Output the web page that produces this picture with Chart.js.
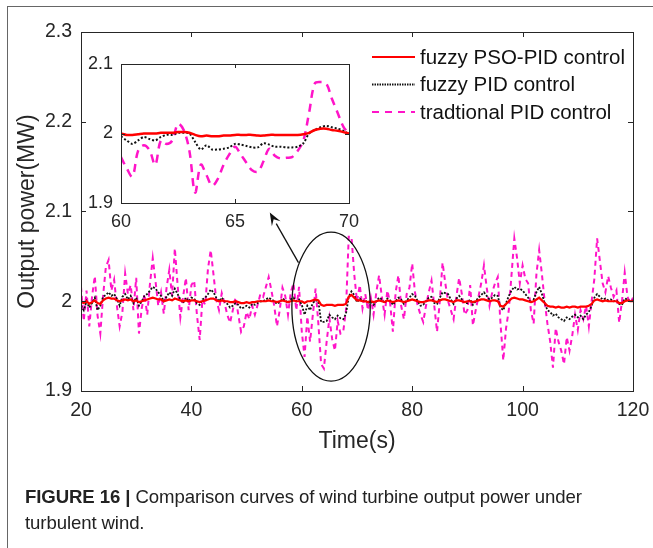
<!DOCTYPE html>
<html>
<head>
<meta charset="utf-8">
<script src="https://cdn.jsdelivr.net/npm/chart.js@4.4.1/dist/chart.umd.min.js"></script>
<style>
  html, body { margin: 0; padding: 0; background: #fff; overflow: hidden; }
  body { width: 653px; height: 548px; position: relative; }
  #frame { position: absolute; left: 7px; top: 6px; width: 700px; height: 600px; border: 1.5px solid #666; box-sizing: border-box; }
  #main { position: absolute; left: 0; top: 0; }
  #inset { position: absolute; left: 70px; top: 50px; }
  #caption {
    position: absolute; left: 25px; top: 484px; width: 620px;
    font-family: "Liberation Sans", Arial, sans-serif;
    font-size: 18.6px; line-height: 26px; color: #222; letter-spacing: -0.1px;
  }
  #caption b { font-weight: bold; }
</style>
</head>
<body>
<div id="frame"></div>
<canvas id="main" width="653" height="548"></canvas>
<canvas id="inset" width="300" height="190"></canvas>
<div id="caption"><b>FIGURE 16 |</b> Comparison curves of wind turbine output power under<br>turbulent wind.</div>
<script>
// main plot: samples every 0.5 s from 20 s to 120 s
const TIME_START = 20;
const TIME_STEP = 0.5;

const psoPid = [
  1.999, 1.998, 2.000, 1.997, 1.999, 2.001, 1.998, 1.997, 2.001, 2.003,
  2.004, 2.003, 2.003, 2.001, 2.000, 2.001, 2.002, 2.001, 2.002, 2.000,
  2.001, 1.999, 2.000, 2.001, 2.002, 2.003, 2.004, 2.003, 2.002, 2.002,
  2.000, 2.001, 2.002, 2.001, 2.003, 2.002, 2.001, 2.000, 2.001, 2.000,
  2.001, 2.001, 2.000, 1.999, 2.000, 2.001, 2.002, 2.003, 2.003, 2.001,
  2.000, 2.001, 2.000, 2.000, 1.999, 1.999, 2.000, 1.999, 1.998, 1.998,
  1.999, 1.998, 1.999, 1.999, 2.000, 2.000, 2.000, 2.000, 2.001, 2.000,
  2.000, 1.999, 2.000, 2.001, 2.000, 1.999, 2.000, 2.001, 2.000, 2.000,
  2.000, 1.998, 2.000, 2.000, 2.001, 2.002, 2.001, 1.996, 1.995, 1.996,
  1.996, 1.996, 1.995, 1.996, 1.996, 1.996, 1.997, 2.005, 2.007, 2.004,
  2.001, 2.001, 2.000, 2.000, 1.999, 2.000, 1.999, 2.000, 2.001, 2.000,
  1.999, 2.001, 2.000, 1.999, 2.000, 2.001, 2.000, 1.999, 2.000, 2.001,
  2.002, 2.001, 2.000, 1.999, 1.999, 2.000, 2.001, 2.001, 2.000, 1.999,
  2.001, 2.002, 2.002, 2.001, 2.000, 1.999, 2.001, 2.001, 2.000, 1.999,
  2.000, 2.000, 1.999, 2.000, 2.001, 2.002, 2.002, 2.001, 2.000, 2.001,
  2.001, 2.000, 1.995, 1.994, 1.997, 2.000, 2.003, 2.004, 2.003, 2.002,
  2.002, 2.001, 2.000, 1.999, 2.000, 2.002, 2.004, 2.001, 1.998, 1.995,
  1.994, 1.994, 1.993, 1.994, 1.993, 1.993, 1.994, 1.993, 1.994, 1.994,
  1.993, 1.994, 1.994, 1.994, 1.995, 1.997, 2.001, 2.002, 2.001, 2.000,
  2.001, 2.000, 2.000, 2.000, 2.000, 1.998, 1.998, 2.000, 2.001, 2.000,
  2.000
];

const fuzzyPid = [
  1.995, 1.990, 2.000, 1.993, 1.998, 2.004, 1.990, 1.995, 2.005, 2.007,
  2.010, 2.006, 2.008, 2.003, 1.995, 2.005, 2.008, 2.002, 2.006, 1.998,
  2.004, 1.995, 2.000, 2.006, 2.008, 2.012, 2.016, 2.014, 2.010, 2.006,
  2.000, 2.005, 2.010, 2.006, 2.014, 2.008, 2.002, 1.998, 2.004, 2.000,
  2.004, 2.003, 1.998, 1.996, 2.002, 2.004, 2.008, 2.013, 2.010, 2.004,
  2.000, 2.004, 2.000, 1.997, 1.993, 1.995, 1.998, 1.996, 1.992, 1.993,
  1.995, 1.993, 1.997, 1.996, 1.998, 2.000, 2.000, 2.002, 2.004, 2.002,
  2.000, 1.997, 1.999, 2.003, 2.001, 1.998, 2.002, 2.004, 2.000, 2.002,
  1.996, 1.985, 1.995, 1.990, 1.998, 2.001, 2.000, 1.977, 1.977, 1.978,
  1.985, 1.982, 1.980, 1.984, 1.981, 1.980, 1.986, 2.005, 2.011, 2.007,
  1.999, 2.003, 2.000, 2.001, 1.998, 2.000, 1.996, 2.000, 2.004, 2.002,
  1.998, 2.003, 2.001, 1.996, 2.000, 2.004, 2.002, 1.997, 2.001, 2.004,
  2.008, 2.006, 2.000, 1.995, 1.996, 2.000, 2.004, 2.005, 1.998, 1.997,
  2.004, 2.010, 2.009, 2.008, 2.002, 1.997, 2.003, 2.006, 2.002, 1.998,
  1.998, 2.002, 1.996, 2.000, 2.004, 2.007, 2.010, 2.006, 2.002, 2.004,
  2.007, 2.006, 1.993, 1.990, 1.998, 2.006, 2.012, 2.016, 2.013, 2.014,
  2.012, 2.008, 2.004, 1.998, 2.002, 2.010, 2.016, 2.008, 1.998, 1.990,
  1.988, 1.984, 1.986, 1.982, 1.980, 1.978, 1.982, 1.980, 1.983, 1.985,
  1.982, 1.984, 1.980, 1.985, 1.988, 1.995, 2.004, 2.008, 2.005, 2.002,
  2.003, 2.001, 2.002, 2.000, 2.001, 1.997, 1.996, 2.003, 2.002, 2.000,
  2.001
];

const tradPid = [
  2.016, 1.978, 2.012, 1.972, 2.005, 2.028, 1.984, 1.964, 2.006, 2.038,
  2.046, 2.012, 2.024, 1.995, 1.972, 1.988, 2.031, 2.008, 2.018, 1.990,
  2.026, 1.964, 1.992, 2.008, 1.985, 2.020, 2.048, 2.022, 1.995, 2.010,
  1.986, 2.015, 2.035, 2.006, 2.059, 2.018, 1.982, 2.005, 2.026, 1.990,
  2.018, 2.023, 1.985, 1.957, 2.002, 1.996, 2.036, 2.057, 2.030, 2.002,
  1.990, 2.009, 1.998, 1.985, 1.976, 1.990, 2.004, 1.985, 1.966, 1.972,
  1.988, 1.980, 1.995, 1.985, 1.996, 2.008, 2.005, 2.016, 2.027, 2.012,
  1.995, 1.972, 1.990, 2.015, 2.006, 1.985, 2.010, 2.020, 1.990, 2.016,
  1.966, 1.938, 1.983, 1.955, 1.985, 2.014, 1.975, 1.930, 1.925, 1.955,
  1.981, 1.958, 1.945, 1.978, 1.964, 1.966, 1.990, 2.072, 2.072, 2.030,
  2.000, 2.018, 1.992, 2.008, 1.990, 2.004, 1.985, 2.010, 2.029, 2.005,
  1.985, 2.012, 1.998, 1.966, 2.010, 2.029, 1.995, 1.980, 2.008, 2.015,
  2.042, 2.010, 1.995, 1.985, 1.977, 1.995, 2.010, 2.023, 1.995, 1.966,
  2.000, 2.043, 2.020, 2.000, 1.990, 1.980, 2.005, 2.026, 2.008, 1.985,
  1.990, 2.018, 1.973, 1.990, 2.005, 2.020, 2.040, 2.015, 1.995, 2.010,
  2.020, 2.027, 1.975, 1.934, 1.970, 1.990, 2.030, 2.070, 2.048, 2.020,
  2.040, 2.025, 2.020, 1.990, 1.975, 2.030, 2.057, 2.030, 2.000, 1.975,
  1.955, 1.926, 1.970, 1.955, 1.945, 1.930, 1.960, 1.945, 1.962, 1.985,
  1.968, 1.990, 1.980, 1.995, 1.972, 2.000, 2.025, 2.070, 2.045, 2.020,
  2.010, 2.028, 2.015, 2.005, 2.012, 1.976, 2.000, 2.032, 2.005, 1.998,
  2.004
];

// zoomed view: samples every 0.25 s from 60 s to 70 s
const INSET_START = 60;
const INSET_STEP = 0.25;

const insetPso = [
  2.000, 1.998, 1.998, 1.999, 2.000, 2.000, 2.000, 2.001, 2.001, 2.001,
  2.002, 2.002, 2.001, 1.998, 1.996, 1.997, 1.996, 1.996, 1.997, 1.997,
  1.998, 1.998, 1.998, 1.998, 1.997, 1.997, 1.998, 1.998, 1.998, 1.998,
  1.998, 1.998, 1.999, 2.001, 2.005, 2.007, 2.007, 2.005, 2.004, 2.002,
  2.000
];

const insetFuzzy = [
  1.996, 1.990, 1.985, 1.990, 1.995, 1.992, 1.990, 1.995, 1.998, 1.998,
  2.001, 2.001, 2.000, 1.988, 1.977, 1.983, 1.977, 1.977, 1.978, 1.980,
  1.985, 1.984, 1.982, 1.980, 1.980, 1.986, 1.984, 1.981, 1.981, 1.980,
  1.980, 1.981, 1.986, 2.000, 2.005, 2.009, 2.011, 2.009, 2.007, 2.004,
  1.999
];

const insetTrad = [
  1.966, 1.950, 1.938, 1.975, 1.983, 1.976, 1.955, 1.990, 1.985, 1.990,
  2.014, 2.005, 1.975, 1.915, 1.955, 1.940, 1.925, 1.935, 1.955, 1.970,
  1.981, 1.970, 1.958, 1.947, 1.945, 1.960, 1.978, 1.968, 1.964, 1.965,
  1.966, 1.975, 1.990, 2.030, 2.072, 2.074, 2.072, 2.050, 2.030, 2.010,
  2.000
];

const seriesLabels = ['fuzzy PSO-PID control', 'fuzzy PID control', 'tradtional PID control'];

const mainXTicks = [20, 40, 60, 80, 100, 120];
const mainYTicks = [1.9, 2.0, 2.1, 2.2, 2.3];
const insetXTicks = [60, 65, 70];
const insetYTicks = [1.9, 2.0, 2.1];

const RED = '#ff0000';
const DOTS = '#111111';
const PINK = '#ff14c8';
const AXIS = '#262626';
const FONT = 'Liberation Sans, Arial, sans-serif';

const toPoints = (arr, start, step) => arr.map((v, i) => ({ x: start + i * step, y: v }));
const fmt = (v) => String(+(+v).toFixed(1));

// keep the plot box where the layout padding puts it, whatever the edge labels need
const noEdgePad = (s) => {
  s.paddingLeft = 0; s.paddingRight = 0; s.paddingTop = 0; s.paddingBottom = 0;
};

// box round the plot area with inward tick marks, as MATLAB draws it
const boxTicks = {
  id: 'boxTicks',
  afterDatasetsDraw(chart, args, opts) {
    const { ctx, chartArea: a, scales: { x, y } } = chart;
    const len = opts.len || 5;
    ctx.save();
    ctx.strokeStyle = AXIS;
    ctx.lineWidth = 1;
    ctx.strokeRect(Math.round(a.left) + 0.5, Math.round(a.top) + 0.5,
      Math.round(a.width), Math.round(a.height));
    ctx.beginPath();
    x.ticks.forEach((t) => {
      const px = Math.round(x.getPixelForValue(t.value)) + 0.5;
      ctx.moveTo(px, a.bottom); ctx.lineTo(px, a.bottom - len);
      ctx.moveTo(px, a.top); ctx.lineTo(px, a.top + len);
    });
    y.ticks.forEach((t) => {
      const py = Math.round(y.getPixelForValue(t.value)) + 0.5;
      ctx.moveTo(a.left, py); ctx.lineTo(a.left + len, py);
      ctx.moveTo(a.right, py); ctx.lineTo(a.right - len, py);
    });
    ctx.stroke();
    ctx.restore();
  },
};

// ellipse round the 60-70 s stretch and the arrow pointing to the zoom
const zoomMark = {
  id: 'zoomMark',
  afterDatasetsDraw(chart, args, opts) {
    const { ctx, scales: { x, y } } = chart;
    const cx = x.getPixelForValue(opts.cx);
    const cy = y.getPixelForValue(opts.cy);
    const rx = Math.abs(x.getPixelForValue(opts.cx + opts.rx) - cx);
    const ry = Math.abs(y.getPixelForValue(opts.cy + opts.ry) - cy);
    ctx.save();
    ctx.strokeStyle = '#111';
    ctx.lineWidth = 1.3;
    ctx.beginPath();
    ctx.ellipse(cx, cy, rx, ry, 0, 0, Math.PI * 2);
    ctx.stroke();

    const tx = x.getPixelForValue(opts.tail[0]);
    const ty = y.getPixelForValue(opts.tail[1]);
    const hx = x.getPixelForValue(opts.head[0]);
    const hy = y.getPixelForValue(opts.head[1]);
    const ang = Math.atan2(hy - ty, hx - tx);
    const L = 13; const W = 5;
    const bx = hx - L * Math.cos(ang);
    const by = hy - L * Math.sin(ang);
    ctx.beginPath();
    ctx.moveTo(tx, ty); ctx.lineTo(bx, by);
    ctx.stroke();
    ctx.fillStyle = '#111';
    ctx.beginPath();
    ctx.moveTo(hx, hy);
    ctx.lineTo(bx + W * Math.sin(ang), by - W * Math.cos(ang));
    ctx.lineTo(hx - 0.6 * L * Math.cos(ang), hy - 0.6 * L * Math.sin(ang));
    ctx.lineTo(bx - W * Math.sin(ang), by + W * Math.cos(ang));
    ctx.closePath();
    ctx.fill();
    ctx.restore();
  },
};

// legend inside the plot, top right, without a box
const innerLegend = {
  id: 'innerLegend',
  afterDraw(chart, args, opts) {
    const { ctx, chartArea: a } = chart;
    const x0 = a.left + opts.dx;
    ctx.save();
    ctx.font = opts.font;
    ctx.textBaseline = 'middle';
    chart.data.datasets.forEach((ds, i) => {
      const yy = a.top + opts.dy + i * opts.gap;
      ctx.strokeStyle = ds.borderColor;
      ctx.lineWidth = ds.legendWidth || ds.borderWidth;
      ctx.setLineDash(ds.legendDash || ds.borderDash || []);
      ctx.beginPath();
      ctx.moveTo(x0, yy); ctx.lineTo(x0 + opts.lineLen, yy);
      ctx.stroke();
      ctx.setLineDash([]);
      ctx.fillStyle = '#111';
      ctx.fillText(ds.label, x0 + opts.lineLen + 5, yy + 1);
    });
    ctx.restore();
  },
};

const mainChart = new Chart(document.getElementById('main'), {
  type: 'line',
  data: {
    datasets: [
      { label: seriesLabels[0], data: toPoints(psoPid, TIME_START, TIME_STEP),
        borderColor: RED, borderWidth: 2.2, pointRadius: 0 },
      { label: seriesLabels[1], data: toPoints(fuzzyPid, TIME_START, TIME_STEP),
        borderColor: DOTS, borderWidth: 1.8, borderDash: [2, 1.6], pointRadius: 0,
        legendWidth: 2, legendDash: [1.5, 1] },
      { label: seriesLabels[2], data: toPoints(tradPid, TIME_START, TIME_STEP),
        borderColor: PINK, borderWidth: 2, borderDash: [5, 4], pointRadius: 0,
        legendDash: [7, 6] },
    ],
  },
  options: {
    responsive: false,
    animation: false,
    devicePixelRatio: 1,
    layout: { padding: { left: 14, right: 20, top: 32, bottom: 93 } },
    plugins: {
      legend: { display: false },
      tooltip: { enabled: false },
      boxTicks: { len: 5 },
      zoomMark: { cx: 65.3, cy: 1.994, rx: 7.1, ry: 0.083, tail: [59.4, 2.043], head: [54.2, 2.099] },
      innerLegend: { dx: 291, dy: 25, gap: 27.5, lineLen: 43, font: '20.5px ' + FONT },
    },
    scales: {
      x: {
        type: 'linear', min: 20, max: 120,
        grid: { display: false, drawTicks: false },
        border: { display: false },
        afterBuildTicks: (s) => { s.ticks = mainXTicks.map((v) => ({ value: v })); },
        afterFit: (s) => { s.height = 64; noEdgePad(s); },
        ticks: { padding: 8, color: AXIS, maxRotation: 0, autoSkip: false, font: { family: FONT, size: 19.5 } },
        title: { display: true, text: 'Time(s)', color: AXIS, padding: 0, font: { family: FONT, size: 23 } },
      },
      y: {
        type: 'linear', min: 1.9, max: 2.3,
        grid: { display: false, drawTicks: false },
        border: { display: false },
        afterBuildTicks: (s) => { s.ticks = mainYTicks.map((v) => ({ value: v })); },
        afterFit: (s) => { s.width = 67; noEdgePad(s); },
        ticks: { padding: 9, color: AXIS, callback: fmt, font: { family: FONT, size: 19.5 } },
        title: { display: true, text: 'Output power(MW)', color: AXIS, padding: 0, font: { family: FONT, size: 23 } },
      },
    },
  },
  plugins: [boxTicks, zoomMark, innerLegend],
});

const insetChart = new Chart(document.getElementById('inset'), {
  type: 'line',
  data: {
    datasets: [
      { label: seriesLabels[0], data: toPoints(insetPso, INSET_START, INSET_STEP),
        borderColor: RED, borderWidth: 2.5, pointRadius: 0, tension: 0.3 },
      { label: seriesLabels[1], data: toPoints(insetFuzzy, INSET_START, INSET_STEP),
        borderColor: DOTS, borderWidth: 2, borderDash: [2, 2], pointRadius: 0, tension: 0.3 },
      { label: seriesLabels[2], data: toPoints(insetTrad, INSET_START, INSET_STEP),
        borderColor: PINK, borderWidth: 2.5, borderDash: [8, 6], pointRadius: 0, tension: 0.35 },
    ],
  },
  options: {
    responsive: false,
    animation: false,
    devicePixelRatio: 1,
    layout: { padding: { left: 0, right: 21, top: 14, bottom: 0 } },
    plugins: {
      legend: { display: false },
      tooltip: { enabled: false },
      boxTicks: { len: 4 },
    },
    scales: {
      x: {
        type: 'linear', min: 60, max: 70,
        grid: { display: false, drawTicks: false },
        border: { display: false },
        afterBuildTicks: (s) => { s.ticks = insetXTicks.map((v) => ({ value: v })); },
        afterFit: (s) => { s.height = 37; noEdgePad(s); },
        ticks: { padding: 8, color: AXIS, maxRotation: 0, autoSkip: false, font: { family: FONT, size: 18 } },
      },
      y: {
        type: 'linear', min: 1.9, max: 2.1,
        grid: { display: false, drawTicks: false },
        border: { display: false },
        afterBuildTicks: (s) => { s.ticks = insetYTicks.map((v) => ({ value: v })); },
        afterFit: (s) => { s.width = 51; noEdgePad(s); },
        ticks: { padding: 8, color: AXIS, callback: fmt, font: { family: FONT, size: 18 } },
      },
    },
  },
  plugins: [boxTicks],
});
</script>
</body>
</html>
